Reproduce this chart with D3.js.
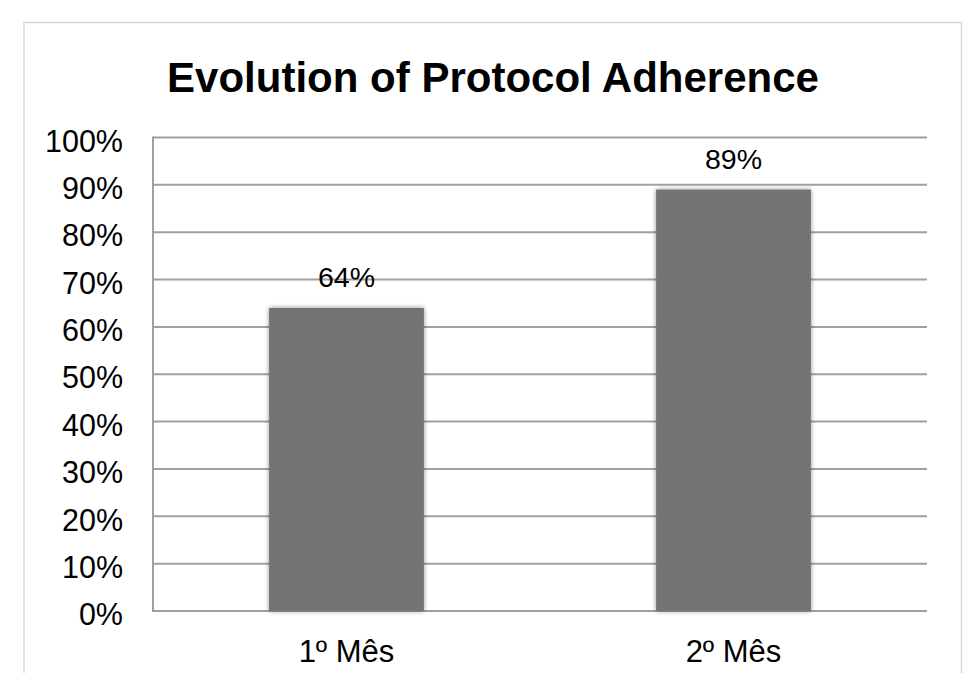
<!DOCTYPE html>
<html>
<head>
<meta charset="utf-8">
<script src="https://cdn.jsdelivr.net/npm/d3@7"></script>
<style>
  html, body { margin: 0; padding: 0; background: #fff; }
  svg { display: block; font-family: "Liberation Sans", Arial, sans-serif; }
</style>
</head>
<body>
<svg id="chart" width="963" height="673"></svg>
<script>
const categories = ["1º Mês", "2º Mês"];
const values = [0.64, 0.89];
const yTicks = [0, 0.1, 0.2, 0.3, 0.4, 0.5, 0.6, 0.7, 0.8, 0.9, 1.0];
const title = "Evolution of Protocol Adherence";

const svg = d3.select("#chart");
const W = 963, H = 673;
const plot = { left: 153, right: 927, top: 137.5, bottom: 611 };

const defs = svg.append("defs");
const f = defs.append("filter").attr("id", "shadow")
  .attr("x", "-10%").attr("y", "-10%").attr("width", "120%").attr("height", "120%");
f.append("feGaussianBlur").attr("in", "SourceAlpha").attr("stdDeviation", 2.5).attr("result", "b");
f.append("feOffset").attr("in", "b").attr("dx", 0).attr("dy", 0).attr("result", "o");
f.append("feComponentTransfer").attr("in", "o").attr("result", "o2")
  .append("feFuncA").attr("type", "linear").attr("slope", 0.45);
const m = f.append("feMerge");
m.append("feMergeNode").attr("in", "o2");
m.append("feMergeNode").attr("in", "SourceGraphic");

// outer chart border
svg.append("rect")
  .attr("x", 24).attr("y", 22.5).attr("width", 937.5).attr("height", H)
  .attr("fill", "#fff").attr("stroke", "#d9d9d9").attr("stroke-width", 1.5);

const x = d3.scaleBand().domain(categories).range([plot.left, plot.right]).paddingInner(0.6).paddingOuter(0.3);
const y = d3.scaleLinear().domain([0, 1]).range([plot.bottom, plot.top]);

// title
svg.append("text")
  .attr("x", 493).attr("y", 92)
  .attr("text-anchor", "middle")
  .attr("font-size", 42).attr("font-weight", "bold")
  .attr("fill", "#000")
  .text(title);

// y axis labels
const yAxis = d3.axisLeft(y).tickValues(yTicks).tickFormat(d3.format(".0%")).tickSize(0).tickPadding(30);
const yG = svg.append("g").attr("transform", `translate(${plot.left},0)`).call(yAxis);
yG.select(".domain").remove();
yG.selectAll("text").attr("font-size", 30.5).attr("fill", "#000")
  .attr("font-family", "'Liberation Sans', Arial, sans-serif").attr("dy", "0.45em");

// gridlines
svg.append("g").selectAll("line").data(yTicks).join("line")
  .attr("x1", plot.left).attr("x2", plot.right)
  .attr("y1", d => y(d)).attr("y2", d => y(d))
  .attr("stroke", "#a0a0a0").attr("stroke-width", 2);

// left axis line
svg.append("line")
  .attr("x1", plot.left).attr("x2", plot.left)
  .attr("y1", plot.top - 1).attr("y2", plot.bottom + 1)
  .attr("stroke", "#a0a0a0").attr("stroke-width", 2);

// bars
svg.append("g").selectAll("rect").data(values).join("rect")
  .attr("x", (d, i) => x(categories[i]))
  .attr("width", x.bandwidth())
  .attr("y", d => y(d))
  .attr("height", d => y(0) - y(d))
  .attr("fill", "#737373")
  .attr("filter", "url(#shadow)");

// data labels
svg.append("g").selectAll("text").data(values).join("text")
  .attr("x", (d, i) => x(categories[i]) + x.bandwidth() / 2)
  .attr("y", d => y(d) - 21)
  .attr("text-anchor", "middle")
  .attr("font-size", 28.5).attr("fill", "#000")
  .text(d => d3.format(".0%")(d));

// x axis labels
const xAxis = d3.axisBottom(x).tickSize(0).tickPadding(0);
const xG = svg.append("g").attr("transform", `translate(0,${plot.bottom})`).call(xAxis);
xG.select(".domain").remove();
xG.selectAll("text").attr("font-size", 31).attr("fill", "#000")
  .attr("font-family", "'Liberation Sans', Arial, sans-serif")
  .attr("dy", null).attr("y", 51);
</script>
</body>
</html>
